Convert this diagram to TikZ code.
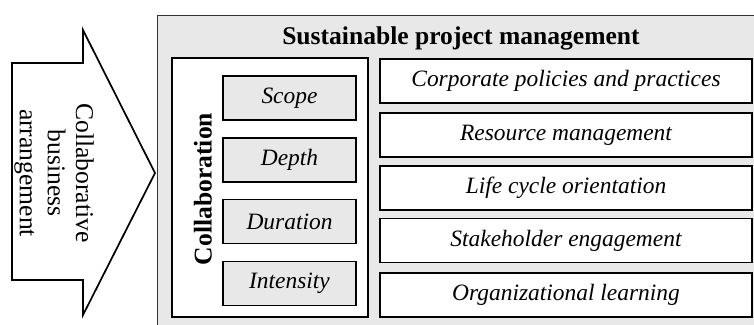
\documentclass[tikz,border=0pt]{standalone}
\usepackage{fontspec}
\setmainfont{Liberation Serif}
\usepackage{xcolor}
\usepackage{tikz}

\definecolor{boxgray}{RGB}{232,232,232}

\begin{document}
\begin{tikzpicture}[x=0.0165cm, y=-0.0165cm,
    every node/.style={font=\fontsize{11}{12.5}\selectfont},
    frame/.style={draw=black, thick},
    dimbox/.style={frame, fill=boxgray, minimum width=2.19cm, minimum height=0.73cm, font=\fontsize{11}{12.5}\selectfont\itshape},
    aspectbox/.style={frame, fill=white, minimum width=6.14cm, minimum height=0.73cm, font=\fontsize{11}{12.5}\selectfont\itshape}]
   \useasboundingbox (0,0) rectangle (754,324);
   % outer panel
   \draw[draw=black!80, fill=boxgray] (157,15) rectangle (770,340);
   \node[font=\fontsize{12}{14}\selectfont\bfseries] (title) at (461,38) {Sustainable project management};
   % arrow
   \draw[thick, fill=white] (12,63) -- (83,63) -- (83,30) -- (155,173) -- (83,315) -- (83,280) -- (12,280) -- cycle;
   \node[rotate=-90, align=center, font=\fontsize{12}{13.2}\selectfont] (arrangement) at (54,173) {Collaborative\\business\\arrangement};
   % collaboration block
   \draw[frame, fill=white] (172,58) rectangle (368,317);
   \node[rotate=90, font=\fontsize{12}{14}\selectfont\bfseries] (collab) at (203,189) {Collaboration};
   \node[dimbox] (scope) at (289.5,98) {Scope};
   \node[dimbox] (depth) at (289.5,160) {Depth};
   \node[dimbox] (duration) at (289.5,221.5) {Duration};
   \node[dimbox] (intensity) at (289.5,283.5) {Intensity};
   % aspects
   \node[aspectbox] (policies) at (566,81) {Corporate policies and practices};
   \node[aspectbox] (resource) at (566,135) {Resource management};
   \node[aspectbox] (lifecycle) at (566,188) {Life cycle orientation};
   \node[aspectbox] (stakeholder) at (566,240.5) {Stakeholder engagement};
   \node[aspectbox] (learning) at (566,295) {Organizational learning};
\end{tikzpicture}
\end{document}
